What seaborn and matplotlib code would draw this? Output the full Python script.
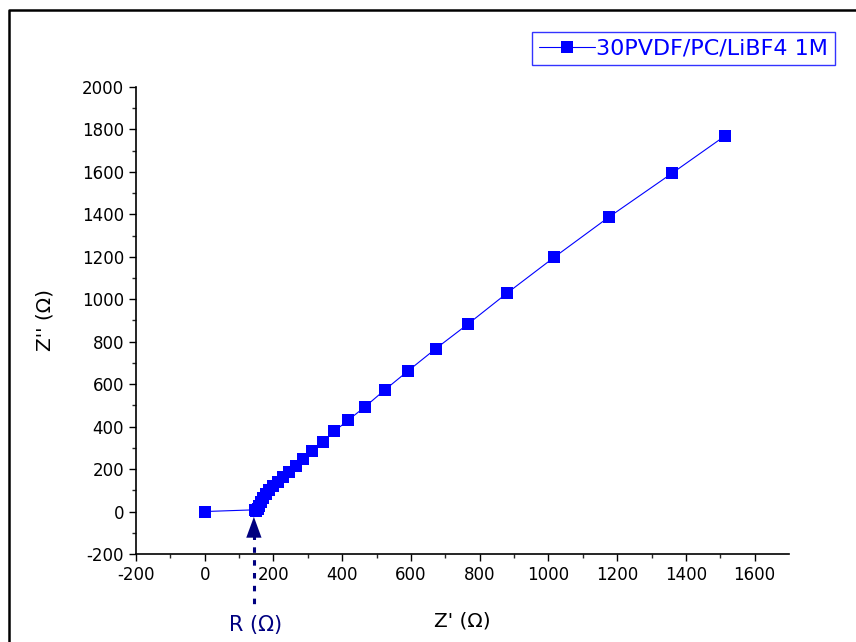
import numpy as np
import pandas as pd
import matplotlib
matplotlib.use('Agg')
import matplotlib.pyplot as plt
import seaborn as sns
from matplotlib.lines import Line2D

# Impedance data
z_real = [0, 145, 150, 154, 158, 163, 170, 178, 188, 200, 213, 228, 245, 265,
          286, 312, 343, 377, 417, 466, 524, 592, 672, 765, 879, 1017, 1175,
          1361, 1515]
z_imag = [0, 8, 4, 14, 28, 44, 63, 82, 101, 120, 140, 162, 187, 213,
          246, 284, 327, 378, 430, 493, 573, 663, 767, 882, 1028, 1198, 1386,
          1595, 1771]
series_label = '30PVDF/PC/LiBF4 1M'
r_value = 143

x_ticks = list(range(-200, 1601, 200))
y_ticks = list(range(-200, 2001, 200))

df = pd.DataFrame({'Zre': z_real, 'Zim': z_imag})

sns.set_style('ticks')
plt.rcParams['font.family'] = ['DejaVu Sans']
plt.rcParams['axes.unicode_minus'] = False
plt.rcParams['text.color'] = 'black'
plt.rcParams['axes.labelcolor'] = 'black'

fig = plt.figure(figsize=(8.56, 6.42), dpi=100)
ax = fig.add_axes([0.1589, 0.1371, 0.9217 - 0.1589, 0.8645 - 0.1371])

sns.lineplot(data=df, x='Zre', y='Zim', sort=False, ax=ax, color='#0000ff',
             linewidth=0.8, marker='s', markersize=8, markeredgewidth=0,
             legend=False)

ax.set_xlim(-200, 1700)
ax.set_ylim(-200, 2000)
ax.set_xticks(x_ticks)
ax.set_yticks(y_ticks)
ax.set_xticks(np.arange(-100, 1700, 200), minor=True)
ax.set_yticks(np.arange(-100, 2000, 200), minor=True)
ax.tick_params(axis='both', which='major', direction='out', length=5,
               width=1, labelsize=12, colors='black')
ax.tick_params(axis='both', which='minor', direction='out', length=3, width=1)
sns.despine(ax=ax)
for s in ['left', 'bottom']:
    ax.spines[s].set_linewidth(1.2)
    ax.spines[s].set_color('black')

ax.set_xlabel("Z' (\u03a9)", fontsize=14.5, labelpad=20, color='black')
ax.set_ylabel("Z'' (\u03a9)", fontsize=14.5, labelpad=20, color='black')

# R arrow and dotted marker line
navy = '#000080'
ax.annotate('', xy=(r_value, -12), xytext=(r_value, -110),
            arrowprops=dict(arrowstyle='-|>,head_length=1.5,head_width=0.55',
                            color=navy, lw=0), annotation_clip=False)
ax.plot([r_value, r_value], [-105, -460], color=navy, linestyle=(0, (1.8, 2.4)),
        linewidth=2.2, clip_on=False)
fig.text(256 / 856, 1 - 625 / 642, 'R (\u03a9)', color=navy, fontsize=15,
         ha='center', va='center')

# Legend
handle = Line2D([], [], color='#0000ff', linewidth=0.8, marker='s',
                markersize=8, markeredgewidth=0)
leg = fig.legend([handle], [series_label], loc='upper right',
                 bbox_to_anchor=(835 / 856, 1 - 32 / 642), fontsize=16,
                 frameon=True, fancybox=False, handlelength=2.55,
                 handletextpad=0.05, borderpad=0.3, borderaxespad=0)
leg.get_frame().set_edgecolor('#0000ff')
leg.get_frame().set_linewidth(1)
for t in leg.get_texts():
    t.set_color('#0000ff')

# Outer frame
fig.add_artist(Line2D([9 / 856, 9 / 856, 1.01], [-0.01, 1 - 10 / 642, 1 - 10 / 642],
                      transform=fig.transFigure, color='black', linewidth=1.8))

fig.savefig('out.png', dpi=100)
